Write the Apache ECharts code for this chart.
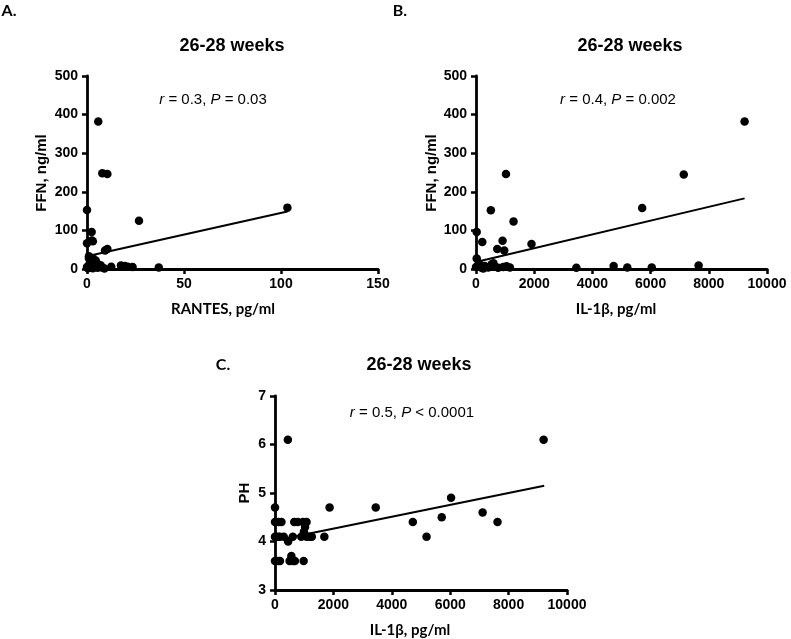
<!DOCTYPE html>
<html>
<head>
<meta charset="utf-8">
<script src="https://cdn.jsdelivr.net/npm/echarts@6/dist/echarts.min.js"></script>
<style>
html,body{margin:0;padding:0;background:#fff;}
#chart{width:791px;height:639px;}
</style>
</head>
<body>
<div id="chart"></div>
<script>
// ---- Data ----
const panelTitle = '26-28 weeks';

// Panel A: RANTES (pg/ml) vs FFN (ng/ml)
const rantesA = [0,0,2.5,3,2.4,5.8,7.9,10.5,26.8,10.5,9.3,103.3,1,2,0,0.5,1,1.5,2,3,3.5,4,5,5.5,6,7,8,9,12.5,17.5,19.5,21,23.5,37,4.5,3,1];
const ffnA    = [153,67,74,72,96,382,248,246,125,52,48,159,27,18,5,2,10,3,8,2,12,5,15,3,8,10,3,1,6,9,8,6,5,4,22,28,33];
const fitAx = [0,103.3];
const fitAy = [33,149];

// Panel B: IL-1β (pg/ml) vs FFN (ng/ml)
const il1bB = [9230,7140,5710,1030,510,1290,24,216,913,730,970,1907,24,3450,4730,5200,6040,7650,0,80,190,300,420,540,650,760,935,1050,1165,600,100,250];
const ffnB  = [382,245,158,246,152,123,96,70,73,52,48,65,27,3,8,4,4,9,5,10,3,8,4,12,6,3,5,7,4,15,15,1];
const fitBx = [0,9230];
const fitBy = [18,183];

// Panel C: IL-1β (pg/ml) vs pH
const il1bC = [0,1870,3450,6030,5710,7110,7620,4720,5190,1690,440,9200,0,120,220,660,780,960,1080,1030,990,0,100,160,300,610,900,1080,1190,1260,450,560,0,100,170,500,620,680,980];
const phC   = [4.7,4.7,4.7,4.9,4.5,4.6,4.4,4.4,4.1,4.1,6.1,6.1,4.4,4.4,4.4,4.4,4.4,4.4,4.4,4.3,4.2,4.1,4.1,4.1,4.1,4.1,4.1,4.1,4.1,4.1,4.0,3.7,3.6,3.6,3.6,3.6,3.6,3.6,3.6];
const fitCx = [0,9220];
const fitCy = [4.02,5.15];

// Tick settings
const ticksA_x = {min:0, max:150, interval:50};
const ticksB_x = {min:0, max:10000, interval:2000};
const ticksFFN = {min:0, max:500, interval:100};
const ticksPH  = {min:3, max:7, interval:1};

const zip = (a,b) => a.map((v,i) => [v,b[i]]);

// ---- Styling ----
const AX = '"Liberation Sans", Arial, sans-serif';
const LB = 'Lato, "Liberation Sans", sans-serif';

function axisDef(gridIndex, t, margin){
  return {
    type:'value', gridIndex, min:t.min, max:t.max, interval:t.interval,
    axisLine:{show:true, onZero:false, lineStyle:{color:'#000', width:2.8}},
    axisTick:{show:true, length:5, lineStyle:{color:'#000', width:2.5}},
    axisLabel:{color:'#000', fontWeight:'bold', fontSize:14, fontFamily:AX, margin,
      formatter:(v) => String(v)},
    splitLine:{show:false}
  };
}
function scatter(i, data){
  return {type:'scatter', xAxisIndex:i, yAxisIndex:i, data, symbol:'circle', symbolSize:8.5,
    itemStyle:{color:'#000', opacity:1}, silent:true, z:3};
}
function fit(i, data){
  return {type:'line', xAxisIndex:i, yAxisIndex:i, data, symbol:'none',
    lineStyle:{color:'#000', width:2}, silent:true, z:2};
}
function txt(x, y, text, size, family, weight, extra){
  return Object.assign({type:'text', x, y, silent:true,
    style:{text, fill:'#000', fontSize:size, fontFamily:family, fontWeight:weight,
      textAlign:'center', textVerticalAlign:'middle'}}, extra||{});
}
function annot(x, y, rVal, pRel, pVal){
  return {type:'text', x, y, silent:true,
    style:{text:'{i|r} = ' + rVal + ', {i|P} ' + pRel + ' ' + pVal, fill:'#000',
      fontSize:15, fontFamily:AX, textAlign:'center', textVerticalAlign:'middle',
      rich:{i:{fontStyle:'italic', fontSize:15, fontFamily:AX, fill:'#000'}}}};
}

const chart = echarts.init(document.getElementById('chart'), null, {renderer:'canvas'});
chart.setOption({
  animation:false,
  backgroundColor:'#fff',
  grid:[
    {left:87, top:76, width:291, height:193},
    {left:476, top:76, width:291, height:193},
    {left:275, top:396, width:292, height:194}
  ],
  xAxis:[axisDef(0,ticksA_x,8), axisDef(1,ticksB_x,8), axisDef(2,ticksB_x,8)],
  yAxis:[axisDef(0,ticksFFN,9), axisDef(1,ticksFFN,9), axisDef(2,ticksPH,9)],
  series:[
    scatter(0, zip(rantesA, ffnA)), fit(0, zip(fitAx, fitAy)),
    scatter(1, zip(il1bB, ffnB)), fit(1, zip(fitBx, fitBy)),
    scatter(2, zip(il1bC, phC)), fit(2, zip(fitCx, fitCy))
  ],
  graphic:[
    txt(9, 11, 'A.', 16, LB, 'bold'),
    txt(400, 11, 'B.', 16, LB, 'bold'),
    txt(223, 365, 'C.', 16, LB, 'bold'),
    txt(232, 46, panelTitle, 18, AX, 'bold'),
    txt(630, 46, panelTitle, 18, AX, 'bold'),
    txt(419, 365, panelTitle, 18, AX, 'bold'),
    annot(213, 100, '0.3', '=', '0.03'),
    annot(618, 100, '0.4', '=', '0.002'),
    annot(412, 413, '0.5', '<', '0.0001'),
    txt(42, 173, 'FFN, ng/ml', 15, AX, 'bold', {rotation:Math.PI/2}),
    txt(432, 173, 'FFN, ng/ml', 15, AX, 'bold', {rotation:Math.PI/2}),
    txt(245, 493, 'PH', 15, AX, 'bold', {rotation:Math.PI/2}),
    txt(223, 309, 'RANTES, pg/ml', 15, LB, 'bold'),
    txt(616, 309, 'IL-1β, pg/ml', 15, LB, 'bold'),
    txt(410, 630, 'IL-1β, pg/ml', 15, LB, 'bold')
  ]
});
</script>
</body>
</html>
